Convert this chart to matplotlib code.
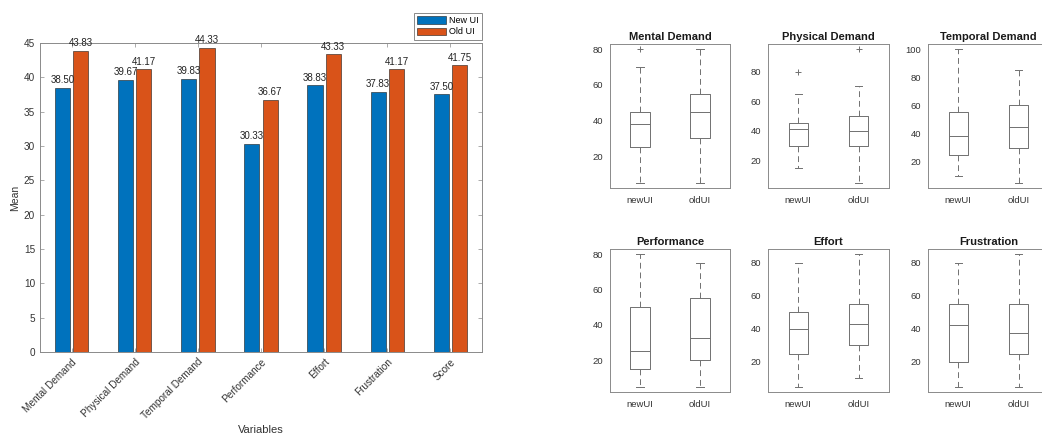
import matplotlib
matplotlib.use("Agg")
import matplotlib.pyplot as plt
import numpy as np

plt.rcParams['font.family'] = ['Liberation Sans', 'DejaVu Sans']

# ---- data ----
categories = ["Mental Demand", "Physical Demand", "Temporal Demand", "Performance",
              "Effort", "Frustration", "Score"]
new_ui_mean = [38.50, 39.67, 39.83, 30.33, 38.83, 37.83, 37.50]
old_ui_mean = [43.83, 41.17, 44.33, 36.67, 43.33, 41.17, 41.75]

box_titles = ["Mental Demand", "Physical Demand", "Temporal Demand",
              "Performance", "Effort", "Frustration"]
box_groups = ["newUI", "oldUI"]
# (whisker low, q1, median, q3, whisker high, outliers)
new_ui_box = [
    (5, 25, 38, 45, 70, [80]),
    (15, 30, 41, 45, 65, [80]),
    (10, 25, 38, 55, 100, []),
    (5, 15, 25, 50, 80, []),
    (5, 25, 40, 50, 80, []),
    (5, 20, 42.5, 55, 80, []),
]
old_ui_box = [
    (5, 30, 45, 55, 80, []),
    (5, 30, 40, 50, 70, [95]),
    (5, 30, 45, 60, 85, []),
    (5, 20, 32.5, 55, 75, []),
    (10, 30, 43, 55, 85, []),
    (5, 25, 37.5, 55, 85, []),
]
box_yticks = [[20, 40, 60, 80], [20, 40, 60, 80], [20, 40, 60, 80, 100],
              [20, 40, 60, 80], [20, 40, 60, 80], [20, 40, 60, 80]]

# ---- figure ----
W, H = 1042, 438
fig = plt.figure(figsize=(W / 100, H / 100), dpi=100)

def add_ax(x0, y0, x1, y1):
    return fig.add_axes([x0 / W, 1 - y1 / H, (x1 - x0) / W, (y1 - y0) / H])

frame_c = '#8a8a8a'
text_c = '#333333'
blue = '#0072BD'
orange = '#D95319'

# ---- bar chart ----
ax = add_ax(40, 43, 482, 352)
x = np.arange(1, len(categories) + 1)
off, bw = 0.145, 0.24
b1 = ax.bar(x - off, new_ui_mean, bw, color=blue, edgecolor='#1a1a1a', linewidth=0.4, label='New UI')
b2 = ax.bar(x + off, old_ui_mean, bw, color=orange, edgecolor='#1a1a1a', linewidth=0.4, label='Old UI')
for bars, vals in ((b1, new_ui_mean), (b2, old_ui_mean)):
    for r, v in zip(bars, vals):
        ax.text(r.get_x() + r.get_width() / 2, v + 0.4, f"{v:.2f}", ha='center', va='bottom',
                fontsize=7, color='#222222')
ax.set_xlim(0.5, len(categories) + 0.5)
ax.set_ylim(0, 45)
ax.set_yticks(np.arange(0, 46, 5))
ax.set_xticks(x)
ax.set_xticklabels(categories, rotation=45, ha='right', rotation_mode='anchor')
ax.tick_params(axis='both', direction='in', length=3, width=0.5, color=frame_c,
               labelsize=7.2, labelcolor=text_c, top=True, right=True)
for s in ax.spines.values():
    s.set_color(frame_c)
    s.set_linewidth(0.7)
ax.set_ylabel('Mean', fontsize=7.5, color=text_c, labelpad=3)
ax.set_xlabel('Variables', fontsize=8, color=text_c, labelpad=2)
ax.xaxis.set_label_coords(0.5, -0.235)
leg = ax.legend(loc='upper right', bbox_to_anchor=(482 / W, 1 - 13 / H),
                bbox_transform=fig.transFigure, borderaxespad=0, fontsize=6.5,
                handlelength=3.2, handleheight=0.9, fancybox=False, framealpha=1,
                borderpad=0.35, labelspacing=0.25, handletextpad=0.4)
leg.get_frame().set_edgecolor(frame_c)
leg.get_frame().set_linewidth(0.7)

# ---- box plots ----
cols = [(610, 730), (768, 889), (928, 1049)]
rows = [(44, 188), (249, 392)]
box_c = '#707070'
for i, title in enumerate(box_titles):
    r, c = divmod(i, 3)
    bax = add_ax(cols[c][0], rows[r][0], cols[c][1], rows[r][1])
    stats = []
    for grp, s in zip(box_groups, (new_ui_box[i], old_ui_box[i])):
        stats.append(dict(whislo=s[0], q1=s[1], med=s[2], q3=s[3], whishi=s[4],
                          fliers=s[5], label=grp))
    bax.bxp(stats, positions=[1, 2], widths=0.32, capwidths=0.12,
            boxprops=dict(color=box_c, linewidth=0.7),
            medianprops=dict(color=box_c, linewidth=0.7),
            whiskerprops=dict(color=box_c, linewidth=0.7, linestyle=(0, (6, 4))),
            capprops=dict(color=box_c, linewidth=0.7),
            flierprops=dict(marker='+', markeredgecolor=box_c, markersize=4, markeredgewidth=0.7))
    lo = min(min(new_ui_box[i][0], old_ui_box[i][0]),
             min(new_ui_box[i][5] + old_ui_box[i][5] + [200]))
    hi = max([new_ui_box[i][4], old_ui_box[i][4]] + new_ui_box[i][5] + old_ui_box[i][5])
    pad = 0.04 * (hi - lo)
    bax.set_ylim(lo - pad, hi + pad)
    bax.set_xlim(0.5, 2.5)
    bax.set_yticks(box_yticks[i])
    bax.set_title(title, fontsize=8, fontweight='bold', color='#1a1a1a', pad=3)
    bax.tick_params(axis='both', length=0, labelsize=6.8, labelcolor=text_c, pad=5)
    bax.tick_params(axis='x', pad=6)
    for s in bax.spines.values():
        s.set_color(frame_c)
        s.set_linewidth(0.7)

fig.savefig('out.png', dpi=100)
